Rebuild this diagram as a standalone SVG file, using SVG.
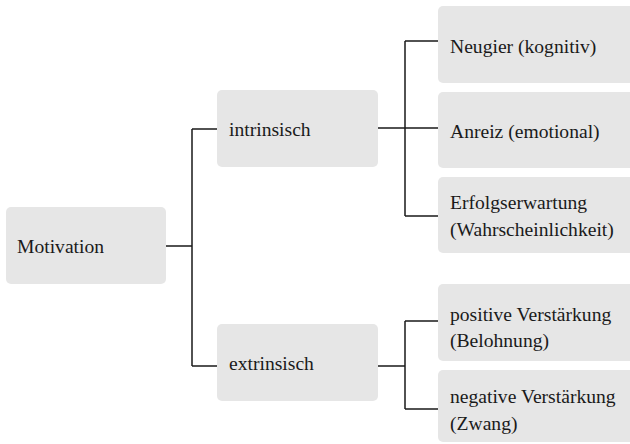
<svg xmlns="http://www.w3.org/2000/svg" width="630" height="444" viewBox="0 0 630 444">
<style>
.box{fill:#e6e6e6}
.t{font-family:'Liberation Serif','Times New Roman',serif;font-size:19.6px;fill:#1a1a1a}
.c{fill:none;stroke:#1a1a1a;stroke-width:1.5}
</style>
<rect width="630" height="444" fill="#ffffff"/>
<g id="connectors">
<path class="c" d="M166,246H192M192,129V366M192,129H217M192,366H217"/>
<path class="c" d="M378,128H438M405,41V216M405,41H438M405,216H438"/>
<path class="c" d="M378,366H405M405,321V409M405,321H438M405,409H438"/>
</g>
<g id="motivation"><rect class="box" x="6" y="207" width="160" height="77" rx="5"/><text class="t" x="17" y="253">Motivation</text></g>
<g id="intrinsisch"><rect class="box" x="217" y="90" width="161" height="77" rx="5"/><text class="t" x="229" y="136">intrinsisch</text></g>
<g id="extrinsisch"><rect class="box" x="217" y="324" width="161" height="77" rx="5"/><text class="t" x="229" y="370">extrinsisch</text></g>
<g id="neugier"><rect class="box" x="438" y="6" width="200" height="77" rx="5"/><text class="t" x="450" y="53">Neugier (kognitiv)</text></g>
<g id="anreiz"><rect class="box" x="438" y="92" width="200" height="76" rx="5"/><text class="t" x="450" y="138">Anreiz (emotional)</text></g>
<g id="erfolg"><rect class="box" x="438" y="177" width="200" height="76" rx="5"/><text class="t" x="450" y="209">Erfolgserwartung</text><text class="t" x="450" y="236">(Wahrscheinlichkeit)</text></g>
<g id="positiv"><rect class="box" x="438" y="284" width="200" height="77" rx="5"/><text class="t" x="450" y="321">positive Verstärkung</text><text class="t" x="450" y="347">(Belohnung)</text></g>
<g id="negativ"><rect class="box" x="438" y="370" width="200" height="72" rx="5"/><text class="t" x="450" y="403">negative Verstärkung</text><text class="t" x="450" y="430">(Zwang)</text></g>
</svg>
